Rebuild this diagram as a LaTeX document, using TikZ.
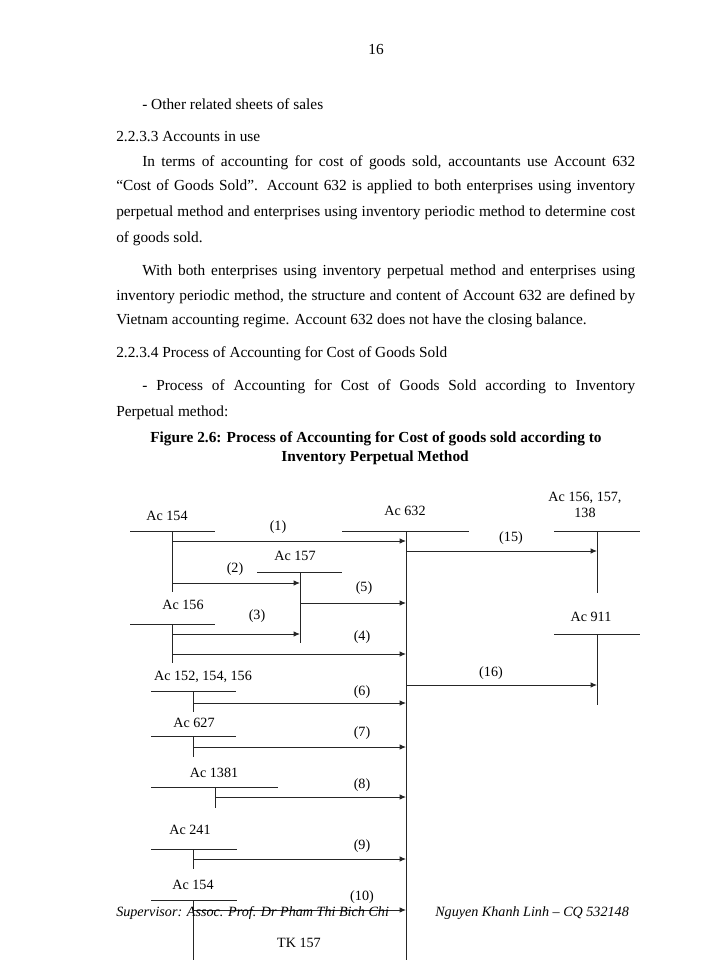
\documentclass[tikz,border=0pt]{standalone}
\usepackage{fontspec}
\setmainfont{Liberation Serif}
\usetikzlibrary{arrows.meta}
\newcommand\Tacc[6]{%
  \coordinate (#1-l) at (#2,#5);
  \coordinate (#1-r) at (#3,#5);
  \coordinate (#1-t) at (#4,#5);
  \coordinate (#1-b) at (#4,#6);
  \draw[tline] (#1-l) -- (#1-r);
  \draw[tline] (#1-t) -- (#1-b);}
\begin{document}
\begin{tikzpicture}[x=0.75pt,y=-0.75pt,
  body/.style={inner sep=0pt,anchor=mid west,font=\fontsize{11.5}{14}\selectfont},
  capt/.style={inner sep=0pt,anchor=mid,font=\fontsize{11.5}{14}\selectfont\bfseries},
  lbl/.style={inner sep=0pt,anchor=mid,align=center,font=\fontsize{10.6}{12.5}\selectfont},
  foot/.style={inner sep=0pt,anchor=mid west,font=\fontsize{10.6}{12}\selectfont\itshape},
  tline/.style={line width=0.75pt,draw=black!85},
  arr/.style={line width=0.75pt,draw=black!85,-{Latex[length=4.8pt,width=4.2pt]}}]
\useasboundingbox[fill=white] (0,0) rectangle (700,960);

% ---------- page text ----------
\node[body,anchor=mid] (pg) at (376,51) {16};
\node[body] (t1) at (142,106) {- Other related sheets of sales};
\node[body] (t2) at (116,138) {2.2.3.3 Accounts in use};
\node[body] (t3) at (142,163) {\makebox[369.75pt][s]{In terms of accounting for cost of goods sold, accountants use Account 632}};
\node[body] (t4) at (116,187) {\makebox[389.25pt][s]{“Cost of Goods Sold”. Account 632 is applied to both enterprises using inventory}};
\node[body] (t5) at (116,213) {\makebox[389.25pt][s]{perpetual method and enterprises using inventory periodic method to determine cost}};
\node[body] (t6) at (116,239) {of goods sold.};
\node[body] (t7) at (142,272) {\makebox[369.75pt][s]{With both enterprises using inventory perpetual method and enterprises using}};
\node[body] (t8) at (116,297) {\makebox[389.25pt][s]{inventory periodic method, the structure and content of Account 632 are defined by}};
\node[body] (t9) at (116,321) {Vietnam accounting regime. Account 632 does not have the closing balance.};
\node[body] (t10) at (116,354) {2.2.3.4 Process of Accounting for Cost of Goods Sold};
\node[body] (t11) at (142,387) {\makebox[369.75pt][s]{- Process of Accounting for Cost of Goods Sold according to Inventory}};
\node[body] (t12) at (116,413) {Perpetual method:};
\node[capt] (cap1) at (376,439) {Figure 2.6: Process of Accounting for Cost of goods sold according to};
\node[capt] (cap2) at (375,458) {Inventory Perpetual Method};

% ---------- T accounts ----------
\Tacc{A154}{130}{215}{172}{531}{592}
\Tacc{A632}{342}{469}{406}{531}{960}
\Tacc{A157}{257}{342}{300}{572}{643}
\Tacc{A156}{130}{215}{172}{624}{663}
\Tacc{A138}{554}{640}{597}{531}{593}
\Tacc{A911}{554}{640}{597}{634}{705}
\Tacc{A152}{151}{236}{193}{691}{712}
\Tacc{A627}{151}{236}{193}{736}{757}
\Tacc{A1381}{151}{278}{215}{787}{808}
\Tacc{A241}{151}{237}{193}{849}{869}
\Tacc{B154}{151}{237}{193}{900}{960}

\node[lbl] (n154) at (167,517) {Ac 154};
\node[lbl] (n632) at (405,512) {Ac 632};
\node[lbl] (n157) at (295,557) {Ac 157};
\node[lbl] (n156) at (183,606) {Ac 156};
\node[lbl,anchor=center] (n138) at (585,505) {Ac 156, 157,\\138};
\node[lbl] (n911) at (591,618) {Ac 911};
\node[lbl] (n152) at (203,677) {Ac 152, 154, 156};
\node[lbl] (n627) at (194,724) {Ac 627};
\node[lbl] (n1381) at (214,774) {Ac 1381};
\node[lbl] (n241) at (190,831) {Ac 241};
\node[lbl] (m154) at (193,886) {Ac 154};

% ---------- entries ----------
\draw[arr] (A154-t |- 0,541) -- (A632-t |- 0,541);
\node[lbl] (l1) at (278,527) {(1)};
\draw[arr] (A154-t |- 0,583) -- (A157-t |- 0,583);
\node[lbl] (l2) at (235,569) {(2)};
\draw[arr] (A157-t |- 0,603) -- (A632-t |- 0,603);
\node[lbl] (l5) at (364,588) {(5)};
\draw[arr] (A156-t |- 0,634) -- (A157-t |- 0,634);
\node[lbl] (l3) at (257,616) {(3)};
\draw[arr] (A156-t |- 0,654) -- (A632-t |- 0,654);
\node[lbl] (l4) at (362,637) {(4)};
\draw[arr] (A632-t |- 0,551) -- (A138-t |- 0,551);
\node[lbl] (l15) at (511,538) {(15)};
\draw[arr] (A632-t |- 0,685) -- (A911-t |- 0,685);
\node[lbl] (l16) at (491,673) {(16)};
\draw[arr] (A152-t |- 0,703) -- (A632-t |- 0,703);
\node[lbl] (l6) at (362,692) {(6)};
\draw[arr] (A627-t |- 0,747) -- (A632-t |- 0,747);
\node[lbl] (l7) at (362,733) {(7)};
\draw[arr] (A1381-t |- 0,797) -- (A632-t |- 0,797);
\node[lbl] (l8) at (362,785) {(8)};
\draw[arr] (A241-t |- 0,859) -- (A632-t |- 0,859);
\node[lbl] (l9) at (362,846) {(9)};
\draw[arr] (B154-t |- 0,910) -- (A632-t |- 0,910);
\node[lbl] (l10) at (362,897) {(10)};

% ---------- footer ----------
\node[foot] (sup) at (116,913) {Supervisor: Assoc. Prof. Dr Pham Thi Bich Chi};
\node[foot] (auth) at (435,913) {Nguyen Khanh Linh – CQ 532148};
\node[lbl] (tk) at (299,944) {TK 157};
\end{tikzpicture}
\end{document}
